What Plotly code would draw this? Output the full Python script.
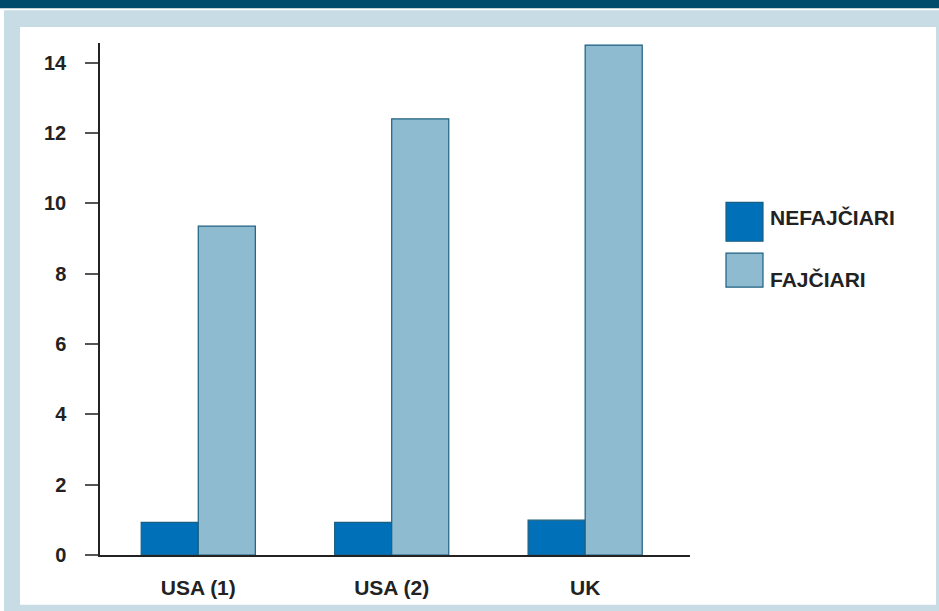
import plotly.graph_objects as go

# ---- data ----
categories = ["USA (1)", "USA (2)", "UK"]
nefajciari = [0.93, 0.93, 0.99]
fajciari = [9.35, 12.4, 14.5]
series_names = ["NEFAJČIARI", "FAJČIARI"]
y_ticks = [0, 2, 4, 6, 8, 10, 12, 14]

# ---- styling / layout constants ----
W, H = 939, 611
L, R, T, B = 100, 690, 43, 557
FONT = "Liberation Sans, Arial, sans-serif"
TXT = "#222222"
colors = ["#0070b8", "#8fbbd0"]
edge = "#1d5f80"


def px(x):
    return (x - L) / (R - L)


def py(y):
    return (B - y) / (B - T)


fig = go.Figure()
for name, vals, c in zip(series_names, [nefajciari, fajciari], colors):
    fig.add_trace(go.Bar(
        x=categories, y=vals, name=name,
        marker=dict(color=c, line=dict(color=edge, width=1.2)),
        showlegend=False,
    ))

shapes = [
    dict(type="rect", xref="paper", yref="paper", x0=px(4), x1=px(W + 5), y0=py(10), y1=py(H + 5),
         fillcolor="#c8dce6", line=dict(width=0), layer="below"),
    dict(type="rect", xref="paper", yref="paper", x0=px(20), x1=px(936), y0=py(27), y1=py(607),
         fillcolor="white", line=dict(width=0), layer="below"),
    dict(type="rect", xref="paper", yref="paper", x0=px(-5), x1=px(W + 5), y0=py(-5), y1=py(8),
         fillcolor="#004b6c", line=dict(width=0), layer="below"),
]
annotations = []
leg_boxes = [(203, 242), (254, 288)]
leg_text_y = [218, 280]
for name, c, (y0, y1), ty in zip(series_names, colors, leg_boxes, leg_text_y):
    shapes.append(dict(type="rect", xref="paper", yref="paper", x0=px(726), x1=px(763),
                       y0=py(y1), y1=py(y0), fillcolor=c, line=dict(color=edge, width=1.2)))
    annotations.append(dict(xref="paper", yref="paper", x=px(768), y=py(ty), xanchor="left",
                            yanchor="middle", showarrow=False, text=name,
                            font=dict(family=FONT, size=21, color=TXT, weight="bold")))

fig.update_layout(
    width=W, height=H,
    margin=dict(l=L, r=W - R, t=T, b=H - B, pad=0),
    paper_bgcolor="white", plot_bgcolor="white",
    barmode="group", bargap=0.41, bargroupgap=0,
    shapes=shapes, annotations=annotations,
    xaxis=dict(range=[-0.508, 2.542], showline=True, linecolor=TXT, linewidth=1.5, ticks="",
               showgrid=False, zeroline=False, ticklabelstandoff=13,
               tickfont=dict(family=FONT, size=21, color=TXT, weight="bold")),
    yaxis=dict(range=[0, 14.56], tickvals=y_ticks, showline=True, linecolor=TXT, linewidth=1.5,
               ticks="outside", ticklen=13, tickwidth=1.5, tickcolor="#555555",
               showgrid=False, zeroline=False, ticklabelstandoff=15,
               tickfont=dict(family=FONT, size=20, color=TXT, weight="bold")),
)

fig.write_html("out.html")
